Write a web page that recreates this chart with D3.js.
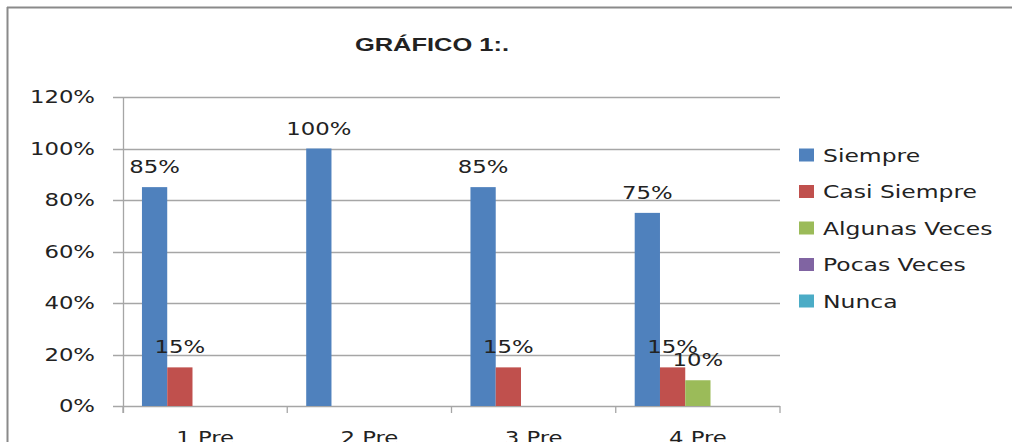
<!DOCTYPE html>
<html>
<head>
<meta charset="utf-8">
<script src="https://cdn.jsdelivr.net/npm/d3@7"></script>
<style>
  body { margin: 0; background: #fff; }
  text { font-family: "DejaVu Sans", Verdana, sans-serif; fill: #222; }
</style>
</head>
<body>
<svg width="1012" height="442"></svg>
<script>
const categories = ['1 Pre', '2 Pre', '3 Pre', '4 Pre'];
const seriesNames = ['Siempre', 'Casi Siempre', 'Algunas Veces', 'Pocas Veces', 'Nunca'];
const siempre = [0.85, 1.0, 0.85, 0.75];
const casiSiempre = [0.15, 0, 0.15, 0.15];
const algunasVeces = [0, 0, 0, 0.10];
const pocasVeces = [0, 0, 0, 0];
const nunca = [0, 0, 0, 0];
const yTicks = [0, 0.2, 0.4, 0.6, 0.8, 1.0, 1.2];
const colors = ['#4f81bd', '#c0504d', '#9bbb59', '#8064a2', '#4bacc6'];

const values = [siempre, casiSiempre, algunasVeces, pocasVeces, nunca];
const sx = 1.34; // the reference is stretched sideways

const svg = d3.select('svg');

// frame (top + left only)
svg.append('line').attr('x1', 7).attr('x2', 1012).attr('y1', 7.5).attr('y2', 7.5)
  .attr('stroke', '#8a8a8a').attr('stroke-width', 2);
svg.append('line').attr('x1', 7.5).attr('x2', 7.5).attr('y1', 7).attr('y2', 442)
  .attr('stroke', '#8a8a8a').attr('stroke-width', 2);

function txt(g, x, y, s, size, anchor) {
  return g.append('text')
    .attr('transform', `translate(${x},${y}) scale(${sx},1)`)
    .attr('text-anchor', anchor || 'middle')
    .style('font-size', size + 'px')
    .text(s);
}

// title
txt(svg, 432, 51, 'GRÁFICO 1:.', 19)
  .style('font-family', '"Liberation Sans", Arial, sans-serif')
  .style('font-weight', 'bold');

const x0 = d3.scaleBand().domain(categories).range([123, 780]);
const x1 = d3.scaleBand().domain(seriesNames).range([0, x0.bandwidth()])
  .paddingInner(0).paddingOuter(0.75);
const y = d3.scaleLinear().domain([0, 1.2]).range([406, 97]);
const pct = d3.format('.0%');

// gridlines + y ticks
const grid = svg.append('g');
yTicks.forEach((t) => {
  grid.append('line').attr('x1', 113).attr('x2', 780)
    .attr('y1', Math.round(y(t)) + 0.5).attr('y2', Math.round(y(t)) + 0.5)
    .attr('stroke', '#a6a6a6').attr('stroke-width', 1.3);
  txt(grid, 95, y(t) + 6, pct(t), 17, 'end');
});
// y axis line
grid.append('line').attr('x1', 123.5).attr('x2', 123.5).attr('y1', y(1.2)).attr('y2', 413)
  .attr('stroke', '#a6a6a6').attr('stroke-width', 1.3);
// x ticks at category boundaries
categories.concat(['end']).forEach((c, i) => {
  const xx = c === 'end' ? x0.range()[1] : x0(c);
  grid.append('line').attr('x1', xx).attr('x2', xx).attr('y1', 406).attr('y2', 413)
    .attr('stroke', '#a6a6a6').attr('stroke-width', 1.3);
});

// bars
const groups = svg.append('g').selectAll('g')
  .data(seriesNames)
  .join('g')
  .attr('fill', (d, i) => colors[i]);

groups.selectAll('rect')
  .data((s, i) => categories.map((c, j) => ({ c, s, v: values[i][j] })))
  .join('rect')
  .attr('x', (d) => x0(d.c) + x1(d.s))
  .attr('width', x1.bandwidth())
  .attr('y', (d) => y(d.v))
  .attr('height', (d) => y(0) - y(d.v));

// data labels
const labels = svg.append('g');
seriesNames.forEach((s, i) => {
  categories.forEach((c, j) => {
    const v = values[i][j];
    if (v > 0) {
      txt(labels, x0(c) + x1(s) + x1.bandwidth() / 2, y(v) - 14, pct(v), 17);
    }
  });
});

// x labels
categories.forEach((c) => {
  txt(svg, x0(c) + x0.bandwidth() / 2, 444, c, 17);
});

// legend
const legend = svg.append('g');
seriesNames.forEach((s, i) => {
  const ly = 155 + i * 36.5;
  legend.append('rect').attr('x', 799).attr('y', ly - 6.5).attr('width', 15).attr('height', 13)
    .attr('fill', colors[i]);
  txt(legend, 823, ly + 6.5, s, 17.5, 'start');
});
</script>
</body>
</html>
